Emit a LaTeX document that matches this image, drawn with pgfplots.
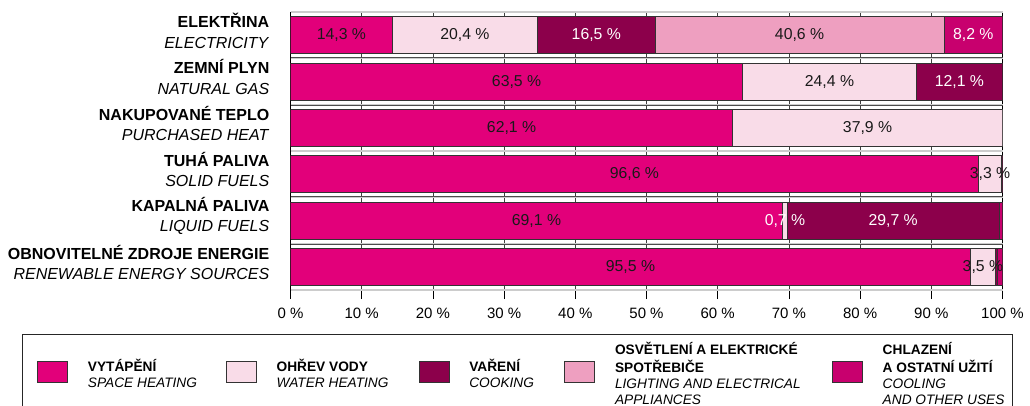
\documentclass[border=0pt]{standalone}
\usepackage{pgfplots}
\pgfplotsset{compat=1.18}
\usepackage{fontspec}
\setmainfont{Liberation Sans}
\definecolor{cheat}{HTML}{E2007A}
\definecolor{cwater}{HTML}{F9DCE8}
\definecolor{ccook}{HTML}{8C004B}
\definecolor{clight}{HTML}{EE9FC0}
\definecolor{ccool}{HTML}{C8006E}

\pgfplotstableread{
y heat water cook light cool
0 14.3 20.4 16.5 40.6 8.2
1 63.5 24.4 12.1 0 0
2 62.1 37.9 0 0 0
3 96.6 3.3 0 0 0.1
4 69.1 0.7 29.7 0 0.5
5 95.5 3.5 0.3 0 0.7
}\datatable

\pgfplotstableread{
x y v
7.15 0 14.3
24.5 0 20.4
71.5 0 40.6
31.75 1 63.5
75.7 1 24.4
31.05 2 62.1
81.05 2 37.9
48.3 3 96.6
98.25 3 3.3
34.55 4 69.1
47.75 5 95.5
97.25 5 3.5
}\labdark

\pgfplotstableread{
x y v
42.95 0 16.5
95.9 0 8.2
93.95 1 12.1
69.45 4 0.7
84.65 4 29.7
}\lablight

\begin{document}
\begin{tikzpicture}
\useasboundingbox (0pt,0pt) rectangle (1030pt,-406pt);
\begin{axis}[
  at={(290.5pt,-290pt)}, anchor=south west,
  width=712pt, height=278pt, scale only axis,
  xmin=0, xmax=100, ymin=-0.5, ymax=5.5, y dir=reverse,
  xbar stacked, bar width=37pt,
  /pgf/number format/assume math mode=true,
  axis line style={black, line width=0.8pt},
  xtick={0,10,...,100},
  xticklabels={0 \%,10 \%,20 \%,30 \%,40 \%,50 \%,60 \%,70 \%,80 \%,90 \%,100 \%},
  xtick pos=bottom, ytick pos=left,
  tick align=outside,
  major tick length=9pt,
  x tick style={black, line width=0.8pt},
  y tick style={draw=none},
  xmajorgrids,
  major x grid style={black!75, line width=0.8pt},
  ytick={0,...,5},
  yticklabels={
    {\textbf{ELEKTŘINA}\\\textit{ELECTRICITY}},
    {\textbf{ZEMNÍ PLYN}\\\textit{NATURAL GAS}},
    {\textbf{NAKUPOVANÉ TEPLO}\\\textit{PURCHASED HEAT}},
    {\textbf{TUHÁ PALIVA}\\\textit{SOLID FUELS}},
    {\textbf{KAPALNÁ PALIVA}\\\textit{LIQUID FUELS}},
    {\textbf{OBNOVITELNÉ ZDROJE ENERGIE}\\\textit{RENEWABLE ENERGY SOURCES}}},
  yticklabel style={align=right, font=\fontsize{16}{20.5}\selectfont, inner sep=0pt, xshift=-12pt, yshift=4.5pt},
  xticklabel style={font=\fontsize{15}{18}\selectfont, inner sep=0pt, yshift=-9pt},
  extra y ticks={-0.5,0.5,1.5,2.5,3.5,4.5,5.5},
  extra y tick labels={},
  extra y tick style={grid=major, major tick length=15.5pt,
     tick style={draw=black, line width=0.8pt},
     major grid style={draw=black!70, line width=0.5pt, double=black!20, double distance=1.2pt}},
  legend style={at={(axis description cs:-0.3560,-0.2608)}, anchor=west, draw=none, fill=none,
     inner sep=0pt, legend columns=5, font=\fontsize{13.7}{16}\selectfont,
     nodes={inner sep=0pt},
     /tikz/every odd column/.append style={column sep=20pt},
     /tikz/every even column/.append style={column sep=0pt}},
  legend cell align=left,
  legend image code/.code={\draw[#1, line width=0.7pt] (0pt,-20.5pt) rectangle (30pt,0.5pt);},
]
\addplot[fill=cheat, draw=black!80, line width=0.6pt] table[x=heat, y=y] {\datatable};
\addlegendentry{\parbox[c]{138pt}{\raggedright\strut\\\textbf{VYTÁPĚNÍ}\\\textit{SPACE HEATING}\\\strut}}
\addplot[fill=cwater, draw=black!80, line width=0.6pt] table[x=water, y=y] {\datatable};
\addlegendentry{\parbox[c]{142pt}{\raggedright\strut\\\textbf{OHŘEV VODY}\\\textit{WATER HEATING}\\\strut}}
\addplot[fill=ccook, draw=black!80, line width=0.6pt] table[x=cook, y=y] {\datatable};
\addlegendentry{\parbox[c]{95pt}{\raggedright\strut\\\textbf{VAŘENÍ}\\\textit{COOKING}\\\strut}}
\addplot[fill=clight, draw=black!80, line width=0.6pt] table[x=light, y=y] {\datatable};
\addlegendentry{\parbox[c]{217pt}{\raggedright\strut\textbf{OSVĚTLENÍ A ELEKTRICKÉ}\\\textbf{SPOTŘEBIČE}\\\textit{LIGHTING AND ELECTRICAL}\\\textit{APPLIANCES}\strut}}
\addplot[fill=ccool, draw=black!80, line width=0.6pt] table[x=cool, y=y] {\datatable};
\addlegendentry{\parbox[c]{125pt}{\raggedright\strut\textbf{CHLAZENÍ}\\\textbf{A OSTATNÍ UŽITÍ}\\\textit{COOLING}\\\textit{AND OTHER USES}\strut}}
\end{axis}
\begin{axis}[
  at={(290.5pt,-290pt)}, anchor=south west,
  width=712pt, height=278pt, scale only axis,
  xmin=0, xmax=100, ymin=-0.5, ymax=5.5, y dir=reverse,
  hide axis, clip=false,
  /pgf/number format/.cd, fixed, fixed zerofill, precision=1, use comma, assume math mode=true,
  /pgfplots/.cd,
  nodes near coords align={center},
]
\addplot[draw=none, mark=none, point meta=explicit,
  nodes near coords={\pgfmathprintnumber{\pgfplotspointmeta} \%},
  every node near coord/.append style={text=black!90, font=\fontsize{15.8}{18}\selectfont}]
  table[x=x, y=y, meta=v] {\labdark};
\addplot[draw=none, mark=none, point meta=explicit,
  nodes near coords={\pgfmathprintnumber{\pgfplotspointmeta} \%},
  every node near coord/.append style={text=white, font=\fontsize{15.8}{18}\selectfont}]
  table[x=x, y=y, meta=v] {\lablight};
\end{axis}
\draw[black!85, line width=1pt] (22pt,-334pt) rectangle (1012pt,-420pt);
\end{tikzpicture}
\end{document}
